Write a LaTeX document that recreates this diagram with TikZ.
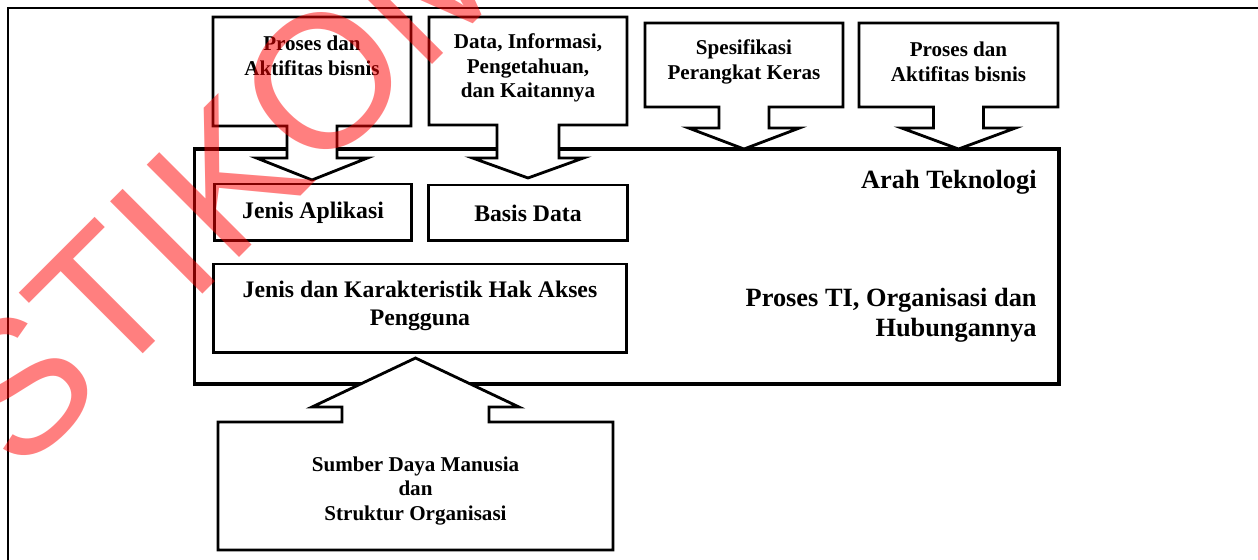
\documentclass[tikz,border=0pt]{standalone}
\usepackage{fontspec}
\setmainfont{Liberation Serif}
\newfontfamily\wmfont{Liberation Sans}
\usetikzlibrary{calc}

\tikzset{
  frame/.style={line width=1.2pt},
  bigbox/.style={draw, line width=1.8pt, inner sep=0pt, outer sep=0pt},
  inbox/.style={draw, fill=white, line width=1.7pt, inner sep=0pt, outer sep=0pt,
    font=\bfseries\fontsize{13.5}{16}\selectfont},
  callbox/.style={inner sep=0pt, outer sep=0pt},
  callout/.style={draw, fill=white, line width=1.6pt, line join=miter},
  intext/.style={align=center, font=\bfseries\fontsize{13.5}{16}\selectfont},
  calltext/.style={align=center, font=\bfseries\fontsize{12}{14}\selectfont},
  bigtext/.style={inner sep=0pt, font=\bfseries\fontsize{15}{17}\selectfont},
  wmtext/.style={inner sep=0pt, text=red, text opacity=0.5,
    font=\wmfont\fontsize{108}{108}\selectfont}
}

\begin{document}
\begin{tikzpicture}[x=0.02cm, y=-0.02cm]
  \useasboundingbox (0,0) rectangle (1258,560);
  \clip (0,0) rectangle (1258,560);
  % outer frame
  \draw[frame] (8,600) -- (8,8) -- (1300,8);
  % container and inner boxes
  \node[bigbox, minimum width=17.3cm, minimum height=4.7cm] (arah) at (626.5,266.5) {};
  \node[inbox, minimum width=3.96cm, minimum height=1.14cm] (apl) at (313,212.5) {Jenis Aplikasi};
  \node[inbox, minimum width=4cm, minimum height=1.12cm] (bd) at (528,213) {Basis Data};
  \node[inbox, minimum width=8.28cm, minimum height=1.78cm] (hak) at (420,308.5) {};
  \node[intext] (haktxt) at (420,306) {Jenis dan Karakteristik Hak Akses\\Pengguna};
  \node[bigtext, anchor=east] (arahtxt) at (1037,182) {Arah Teknologi};
  \node[bigtext, anchor=east, align=right] (prosestxt) at (1037,315) {Proses TI, Organisasi dan\\Hubungannya};

  % callout boxes
  \node[callbox, minimum width=3.96cm, minimum height=2.18cm] (bisnisa) at (312,71.5) {};
  \node[callbox, minimum width=3.96cm, minimum height=2.16cm] (data) at (528,71) {};
  \node[callbox, minimum width=3.96cm, minimum height=1.68cm] (keras) at (744,65) {};
  \node[callbox, minimum width=3.98cm, minimum height=1.68cm] (bisnisb) at (958.5,65) {};
  \node[callbox, minimum width=7.9cm, minimum height=2.56cm] (sdm) at (415.5,486) {};

  \draw[callout] (bisnisa.north west) -- (bisnisa.north east) -- (bisnisa.south east)
    -- ($(bisnisa.south)+(25,0)$) -- ++(0,32) -- ++(30.5,0) -- ($(bisnisa.south)+(0,54)$)
    -- ($(bisnisa.south)+(-55.5,32)$) -- ++(30.5,0) -- ++(0,-32) -- (bisnisa.south west) -- cycle;
  \draw[callout] (data.north west) -- (data.north east) -- (data.south east)
    -- ($(data.south)+(31,0)$) -- ++(0,33) -- ++(24.5,0) -- ($(data.south)+(0,53)$)
    -- ($(data.south)+(-55.5,33)$) -- ++(24.5,0) -- ++(0,-33) -- (data.south west) -- cycle;
  \draw[callout] (keras.north west) -- (keras.north east) -- (keras.south east)
    -- ($(keras.south)+(25,0)$) -- ++(0,21) -- ++(30.5,0) -- (keras.south |- arah.north)
    -- ($(keras.south)+(-55.5,21)$) -- ++(30.5,0) -- ++(0,-21) -- (keras.south west) -- cycle;
  \draw[callout] (bisnisb.north west) -- (bisnisb.north east) -- (bisnisb.south east)
    -- ($(bisnisb.south)+(25,0)$) -- ++(0,21) -- ++(32,0) -- (bisnisb.south |- arah.north)
    -- ($(bisnisb.south)+(-57,21)$) -- ++(32,0) -- ++(0,-21) -- (bisnisb.south west) -- cycle;
  \draw[callout] (sdm.south west) -- (sdm.north west)
    -- ($(sdm.north)+(-73.5,0)$) -- ++(0,-15) -- ++(-30,0) -- ($(sdm.north)+(0,-64)$)
    -- ($(sdm.north)+(103.5,-15)$) -- ++(-30,0) -- ++(0,15) -- (sdm.north east)
    -- (sdm.south east) -- cycle;

  \node[calltext] (bisnisatxt) at (312,56) {Proses dan\\Aktifitas bisnis};
  \node[calltext] (datatxt) at (528,68) {Data, Informasi,\\Pengetahuan,\\dan Kaitannya};
  \node[calltext] (kerastxt) at (744,62) {Spesifikasi\\Perangkat Keras};
  \node[calltext] (bisnisbtxt) at (958.5,62) {Proses dan\\Aktifitas bisnis};
  \node[calltext] (sdmtxt) at (415.5,491) {Sumber Daya Manusia\\dan\\Struktur Organisasi};

  % watermark
  \node[wmtext, anchor=base west, rotate=45] (wm) at (19,478) {STIKOM};
\end{tikzpicture}
\end{document}
